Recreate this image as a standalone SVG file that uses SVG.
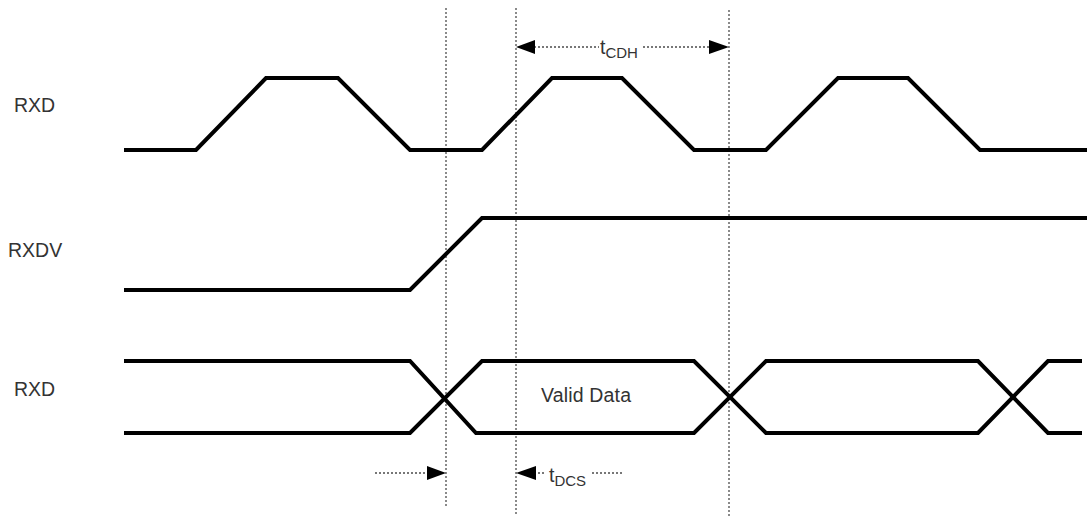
<svg xmlns="http://www.w3.org/2000/svg" width="1087" height="517" viewBox="0 0 1087 517">
<style>
.wave{fill:none;stroke:#000;stroke-width:4;stroke-linejoin:miter}
.guide{stroke:#8a8a8a;stroke-width:2;stroke-dasharray:2 2;fill:none}
.dim{stroke:#777;stroke-width:2;stroke-dasharray:2 2;fill:none}
.lbl{font-family:"Liberation Sans",Arial,sans-serif;font-size:19.5px;fill:#333}
.sub{font-size:15px}
.head{fill:#000}
</style>
<rect width="1087" height="517" fill="#fff"/>
<g id="labels">
<text class="lbl" x="14" y="112">RXD</text>
<text class="lbl" x="8" y="257">RXDV</text>
<text class="lbl" x="14" y="396">RXD</text>
</g>
<g id="guides">
<line class="guide" x1="446" y1="8" x2="446" y2="508"/>
<line class="guide" x1="516" y1="8" x2="516" y2="516"/>
<line class="guide" x1="729" y1="10" x2="729" y2="516"/>
</g>
<g id="rxd">
<polyline class="wave" points="124,150 196,150 266,78 338,78 410,150 482,150 552,78 622,78 694,150 766,150 838,78 908,78 980,150 1087,150"/>
</g>
<g id="rxdv">
<polyline class="wave" points="124,290 410,290 482,218 1087,218"/>
</g>
<g id="rxd-data">
<polyline class="wave" points="124,361 410,361 476,433 694,433 766,361 978,361 1048,433 1082,433"/>
<polyline class="wave" points="124,433 410,433 482,361 694,361 766,433 978,433 1048,361 1082,361"/>
<text class="lbl" x="541" y="402" textLength="90">Valid Data</text>
</g>
<g id="connectors">
<g id="tCDH">
<line class="dim" x1="534" y1="47" x2="599" y2="47"/>
<line class="dim" x1="643" y1="47" x2="709" y2="47"/>
<polygon class="head" points="516,47 535,40 535,54"/>
<polygon class="head" points="729,47 709,40 709,54"/>
<text class="lbl" x="600" y="54">t<tspan class="sub" dy="4">CDH</tspan></text>
</g>
<g id="tDCS">
<line class="dim" x1="375" y1="473" x2="428" y2="473"/>
<polygon class="head" points="446,473 427,466 427,480"/>
<polygon class="head" points="516,473 536,466 536,480"/>
<line class="dim" x1="538" y1="473" x2="546" y2="473"/>
<line class="dim" x1="592" y1="473" x2="623" y2="473"/>
<text class="lbl" x="549" y="482">t<tspan class="sub" dy="4">DCS</tspan></text>
</g>
</g>
</svg>
